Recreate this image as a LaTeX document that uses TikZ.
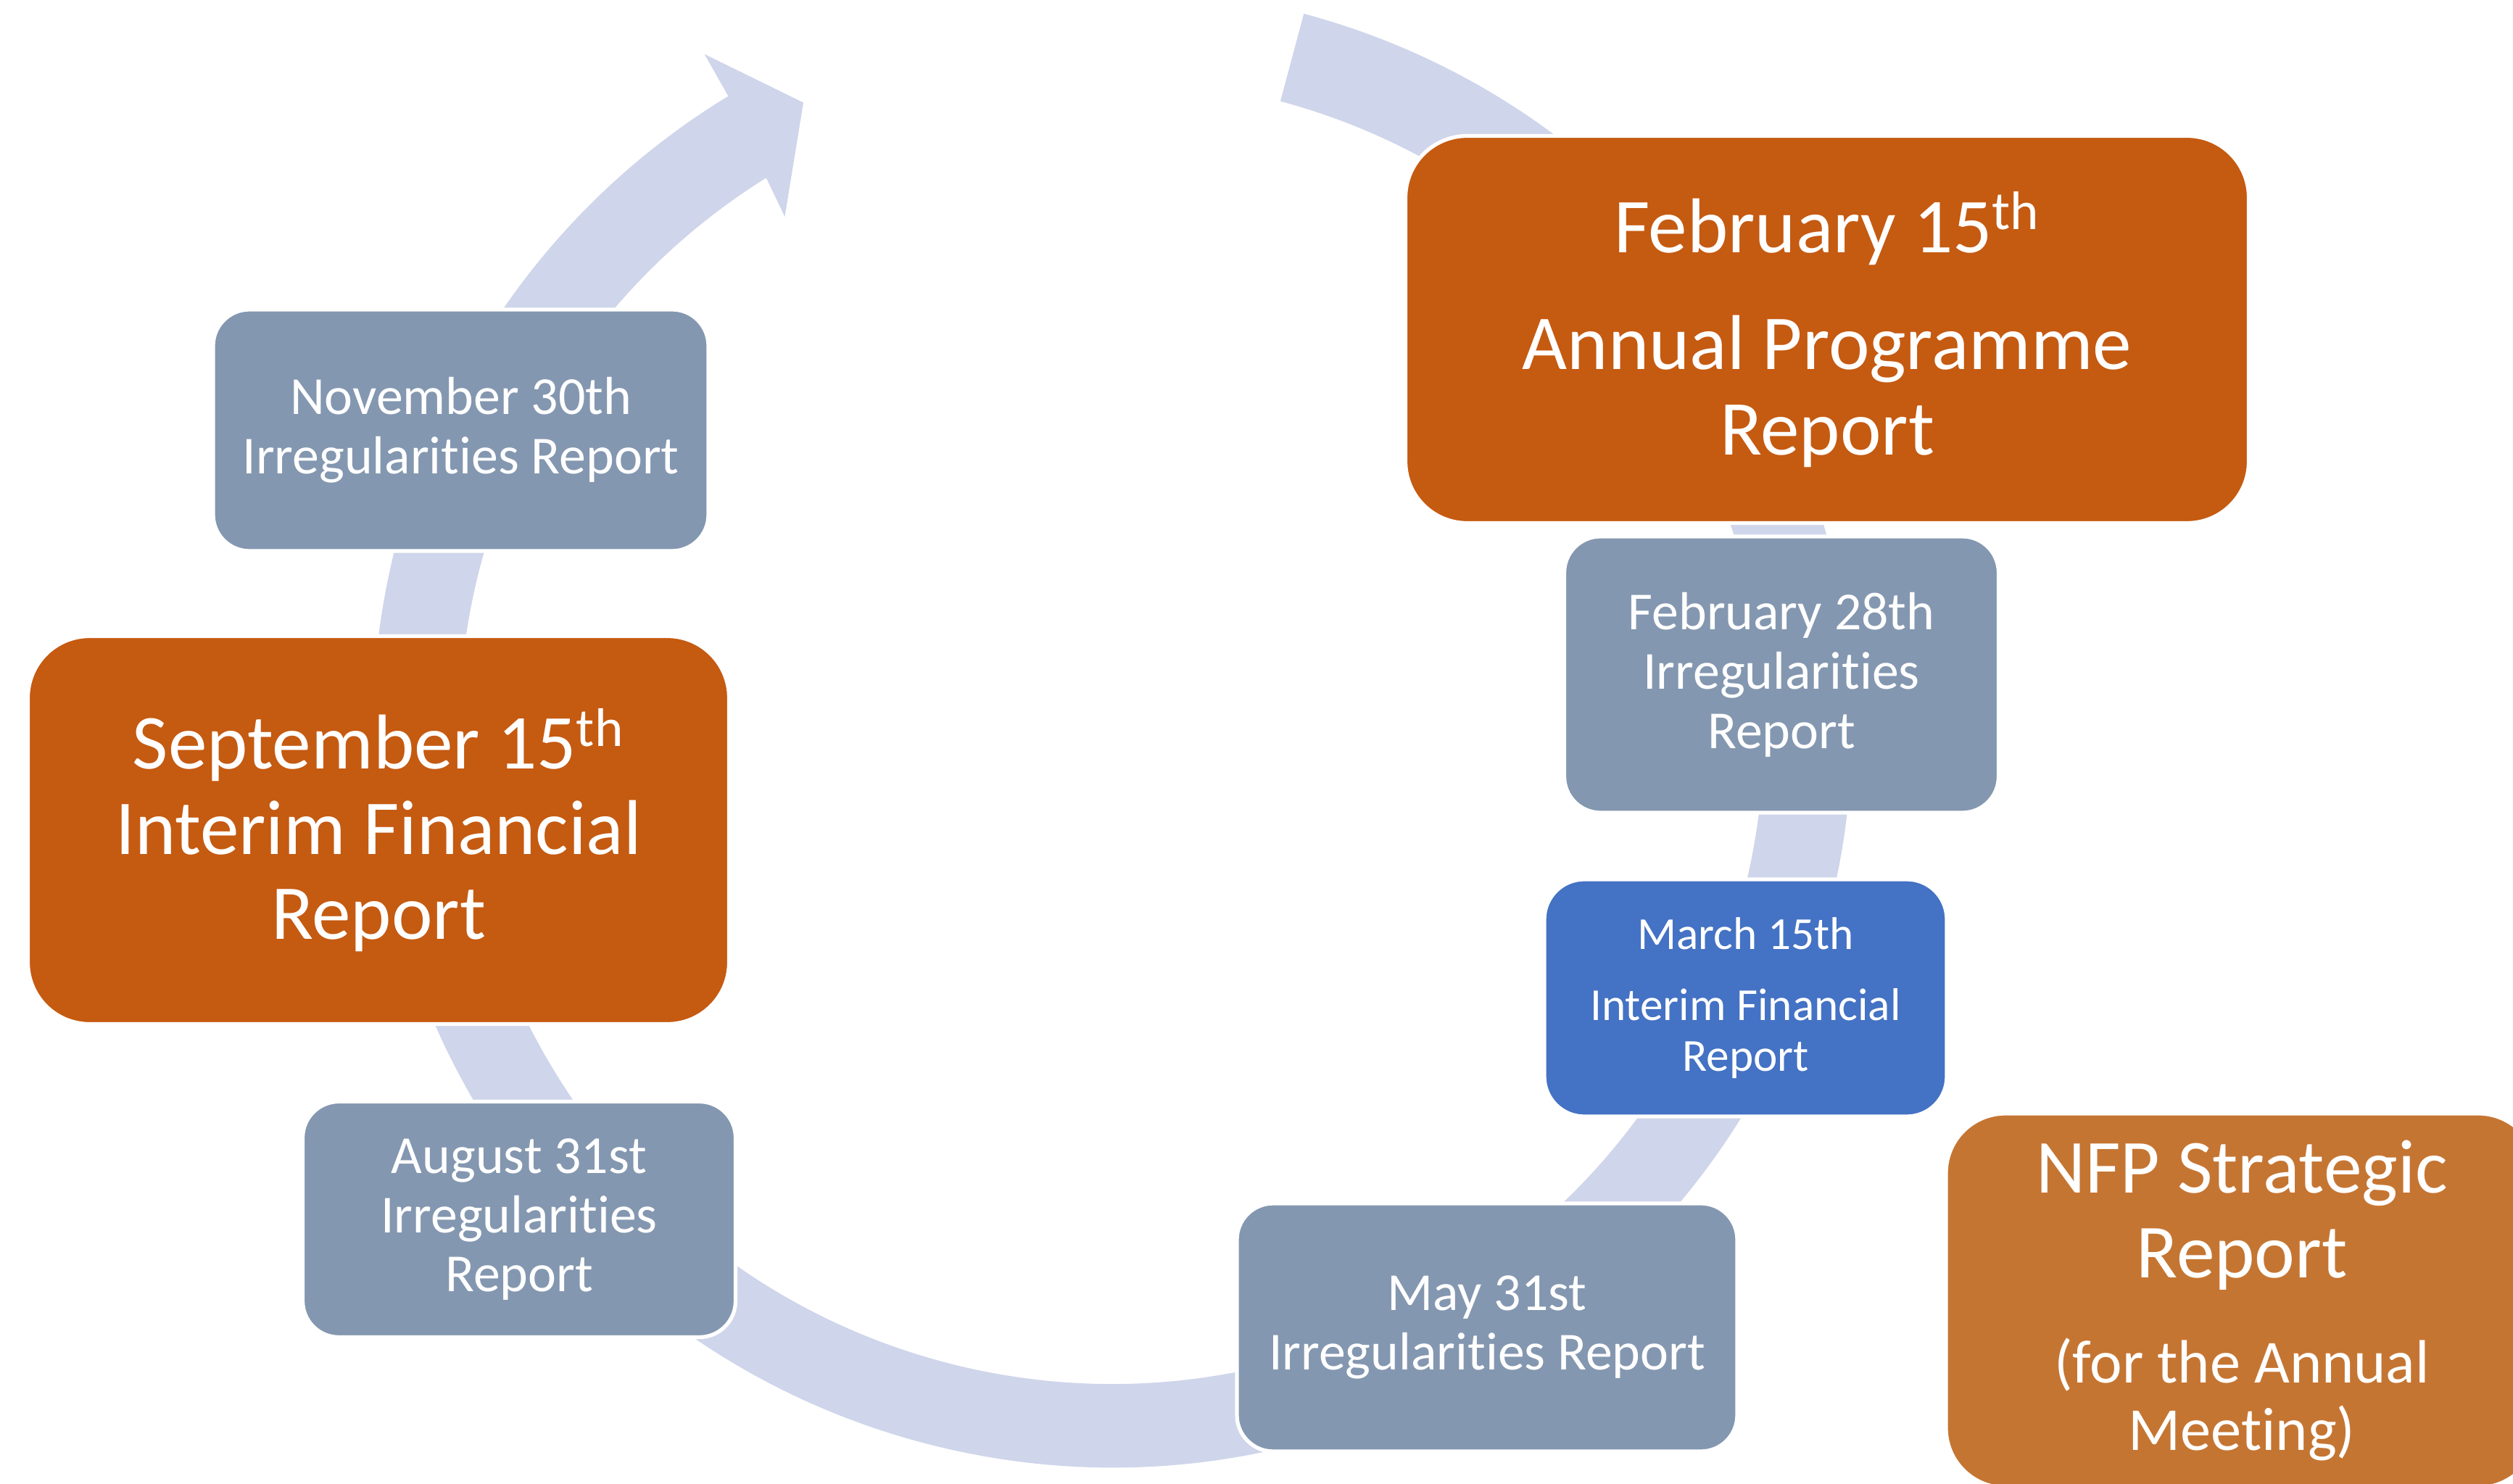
\documentclass[tikz,border=0pt]{standalone}
\usepackage{fontspec}
\setmainfont{Carlito}[Ligatures=NoCommon]
\definecolor{cyclefill}{RGB}{207,213,234}
\definecolor{slategrey}{RGB}{132,151,176}
\definecolor{burntorange}{RGB}{197,90,17}
\definecolor{softorange}{RGB}{197,117,50}
\definecolor{accentblue}{RGB}{68,114,196}
\tikzset{
  report/.style={draw=white, line width=1.5pt, text=white, align=center, inner sep=0pt},
  irreg/.style={report, fill=slategrey, rounded corners=0.5cm, font=\fontsize{21}{23.3}\selectfont},
  interim/.style={report, fill=accentblue, rounded corners=0.55cm, font=\fontsize{18}{19.7}\selectfont},
  deadline/.style={report, fill=burntorange, rounded corners=0.85cm, font=\fontsize{30.5}{33.4}\selectfont},
  strategic/.style={report, fill=softorange, rounded corners=0.82cm, font=\fontsize{30}{33.3}\selectfont}
}
\begin{document}
\begin{tikzpicture}
    \useasboundingbox (0,0) rectangle (34.66,20.46);
    \clip (0,0) rectangle (34.66,20.46);
    % circular arrow, running clockwise from the top
    \begin{scope}[shift={(15.33,10.37)}]
      \fill[cyclefill] (75:10.25) arc[start angle=75, end angle=-238.7, radius=10.2]
        -- (121.0:10.9) -- (116.1:9.66) -- (122.4:8.41) -- (121.95:9.0)
        arc[start angle=-238.05, end angle=75, radius=9.0] -- cycle;
    \end{scope}
    % large deadlines
    \node[deadline, minimum width=11.63cm, minimum height=5.34cm] (feb15) at (25.20,15.915)
        {February 15\textsuperscript{th}\\[12.5pt]Annual Programme\\Report};
    \node[deadline, minimum width=9.67cm, minimum height=5.35cm] (sep15) at (5.22,9.01)
        {September 15\textsuperscript{th}\\Interim Financial\\Report};
    % irregularities reports
    \node[irreg, minimum width=5.99cm, minimum height=3.81cm] (feb28) at (24.57,11.155)
        {February 28th\\Irregularities\\Report};
    \node[irreg, minimum width=6.90cm, minimum height=3.42cm] (may31) at (20.51,2.15)
        {May 31st\\Irregularities Report};
    \node[irreg, minimum width=5.97cm, minimum height=3.25cm] (aug31) at (7.16,3.64)
        {August 31st\\Irregularities\\Report};
    \node[irreg, minimum width=6.83cm, minimum height=3.33cm] (nov30) at (6.355,14.525)
        {November 30th\\Irregularities Report};
    % interim report in spring
    \node[interim, minimum width=5.55cm, minimum height=3.27cm] (mar15) at (24.075,6.695)
        {March 15th\\[8.2pt]Interim Financial\\Report};
    % strategic report, runs off the page
    \node[strategic, minimum width=8.16cm, minimum height=5.16cm] (nfp) at (30.92,2.52)
        {NFP Strategic\\Report\\[7.8pt]\fontsize{24}{26.5}\selectfont(for the Annual\\[-6.8pt]\fontsize{24}{26.5}\selectfont Meeting)};
\end{tikzpicture}
\end{document}
